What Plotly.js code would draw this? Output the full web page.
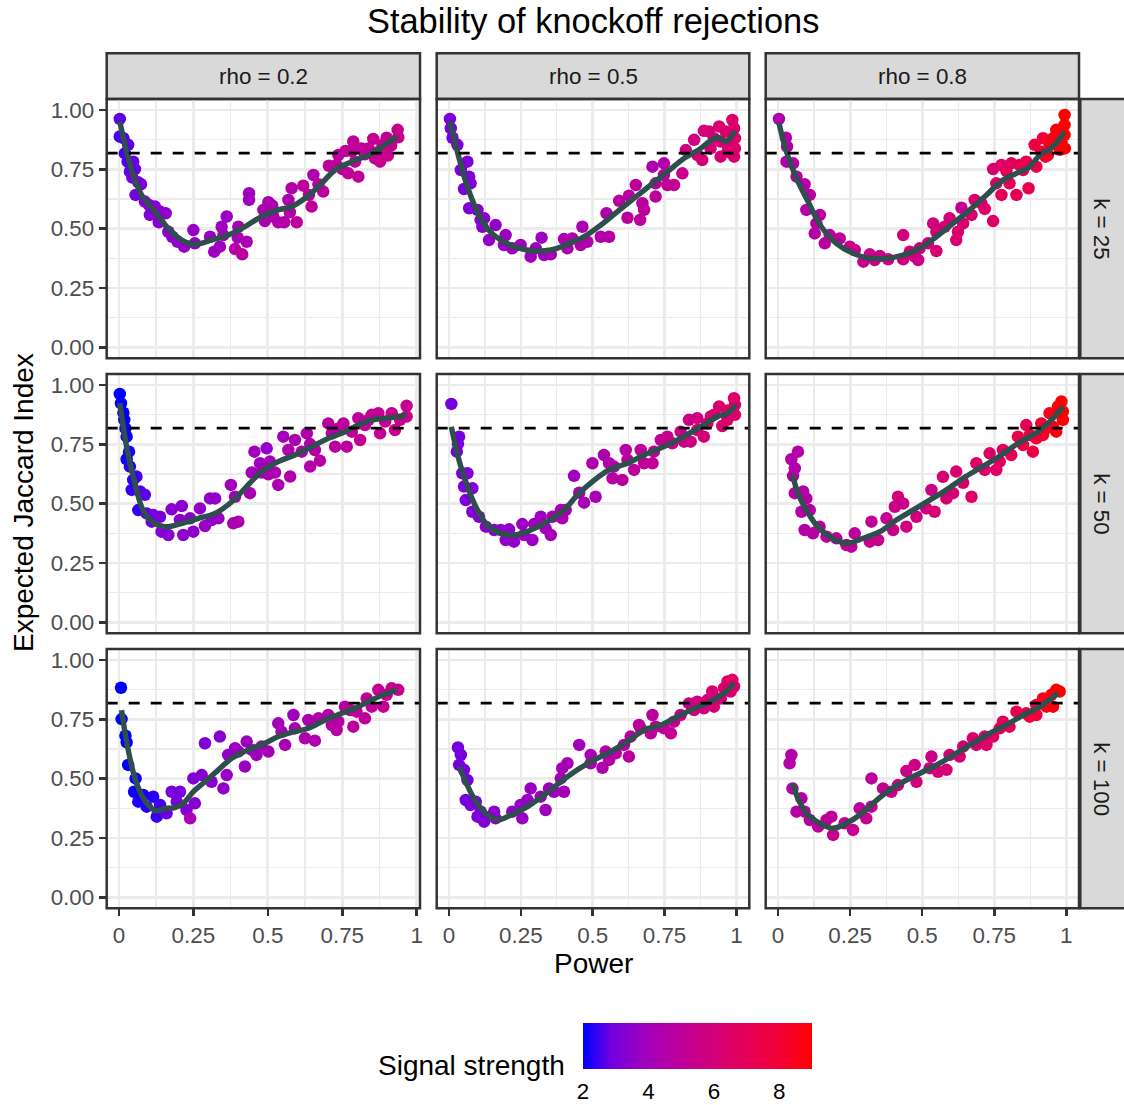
<!DOCTYPE html>
<html><head><meta charset="utf-8">
<script src="https://cdn.plot.ly/plotly-3.0.1.min.js"></script>
<style>html,body{margin:0;padding:0;background:#fff}#chart{width:1124px;height:1105px}</style>
</head><body><div id="chart"></div>
<script>
// ---------------- DATA ----------------
const chartTitle = 'Stability of knockoff rejections';
const xTitle = 'Power';
const yTitle = 'Expected Jaccard Index';
const legendTitle = 'Signal strength';
const rhoLabels = ['rho = 0.2', 'rho = 0.5', 'rho = 0.8'];
const kLabels = ['k = 25', 'k = 50', 'k = 100'];
const xTickVals = [0, 0.25, 0.5, 0.75, 1];
const xTickText = ['0', '0.25', '0.5', '0.75', '1'];
const yTickVals = [0, 0.25, 0.5, 0.75, 1];
const yTickText = ['0.00', '0.25', '0.50', '0.75', '1.00'];
const thresholdJaccard = 0.818;
const signalTicks = [2, 4, 6, 8];
const signalRange = [2, 9];

// points: [power, expected Jaccard, signal strength]
const pts_r02_k25 = [[.003,.962,2.7],[.003,.888,2.5],[.015,.881,2.6],[.031,.853,2.7],[.020,.817,2.5],[.029,.782,2.6],[.048,.782,2.8],[.054,.751,2.8],[.037,.740,2.7],[.045,.715,2.9],[.065,.695,3.0],[.074,.687,3.0],[.056,.642,3.0],[.087,.614,3.2],[.101,.600,3.3],[.121,.593,3.3],[.104,.558,3.2],[.138,.572,3.4],[.157,.565,3.5],[.134,.527,3.3],[.166,.487,3.4],[.179,.466,3.5],[.197,.445,3.5],[.219,.424,3.6],[.250,.494,3.7],[.255,.438,3.6],[.306,.466,3.7],[.320,.403,3.8],[.339,.424,3.9],[.345,.508,3.9],[.362,.551,3.8],[.351,.473,4.0],[.390,.414,4.7],[.401,.508,4.1],[.414,.392,4.8],[.429,.445,4.3],[.399,.462,4.2],[.437,.649,3.9],[.437,.621,3.9],[.485,.579,4.3],[.502,.611,4.2],[.515,.597,4.3],[.518,.551,4.4],[.490,.532,4.3],[.535,.527,4.5],[.555,.527,4.6],[.574,.569,4.6],[.569,.621,4.4],[.580,.670,4.6],[.597,.527,4.9],[.619,.681,5.0],[.647,.593,5.0],[.638,.642,4.8],[.653,.726,4.4],[.686,.656,4.9],[.670,.687,4.8],[.705,.765,4.9],[.737,.810,4.9],[.750,.751,5.0],[.770,.733,5.1],[.787,.867,4.9],[.793,.782,5.1],[.804,.719,5.0],[.782,.827,5.0],[.826,.813,5.2],[.854,.878,5.2],[.860,.796,5.3],[.877,.782,5.4],[.885,.853,5.2],[.899,.883,5.3],[.903,.808,5.4],[.914,.850,5.3],[.936,.916,5.3],[.938,.885,5.4],[.869,.822,5.3],[.838,.838,5.2],[.815,.838,5.1],[.761,.827,5.0],[.731,.768,4.9]];
const pts_r05_k25 = [[.003,.962,3.0],[.006,.923,3.0],[.012,.883,3.0],[.029,.853,3.1],[.064,.782,3.2],[.041,.747,3.1],[.070,.719,3.2],[.075,.691,3.2],[.052,.667,3.1],[.070,.586,3.2],[.099,.579,3.3],[.110,.537,3.4],[.116,.508,3.3],[.122,.544,3.4],[.162,.515,3.6],[.139,.452,3.6],[.197,.473,3.8],[.191,.431,3.8],[.220,.417,3.9],[.249,.431,3.9],[.284,.382,3.9],[.302,.417,3.8],[.322,.462,3.8],[.331,.389,4.0],[.354,.392,4.1],[.400,.456,4.4],[.429,.459,4.4],[.412,.417,4.4],[.464,.508,4.3],[.458,.431,4.5],[.481,.445,4.5],[.528,.466,4.5],[.557,.466,4.6],[.548,.565,4.5],[.592,.617,4.8],[.626,.639,4.8],[.621,.546,4.9],[.650,.684,4.9],[.665,.537,5.0],[.673,.607,4.9],[.679,.579,4.9],[.708,.761,4.4],[.719,.691,5.0],[.719,.635,4.9],[.748,.775,4.5],[.748,.726,5.0],[.760,.684,5.1],[.783,.684,5.2],[.812,.733,5.4],[.824,.831,5.6],[.853,.874,5.8],[.864,.810,5.9],[.881,.789,6.0],[.887,.912,6.0],[.910,.838,6.1],[.922,.881,6.1],[.940,.930,6.2],[.945,.803,6.2],[.963,.909,6.3],[.969,.853,6.3],[.986,.958,6.5],[.992,.923,6.4],[.995,.881,6.4],[.995,.838,6.3],[.992,.803,6.3],[.969,.824,6.2],[.945,.867,6.2],[.905,.909,6.0],[.986,.867,6.4]];
const pts_r08_k25 = [[.003,.962,4.4],[.027,.883,4.5],[.031,.846,4.5],[.029,.782,4.5],[.052,.775,4.6],[.064,.719,4.6],[.092,.687,4.6],[.110,.642,4.7],[.098,.579,4.7],[.145,.558,4.8],[.133,.522,4.8],[.127,.480,4.7],[.162,.438,4.8],[.179,.473,4.9],[.214,.459,5.0],[.249,.424,5.3],[.266,.410,5.4],[.296,.361,5.3],[.318,.392,5.4],[.335,.368,5.5],[.353,.385,5.5],[.382,.371,5.8],[.434,.473,5.9],[.434,.371,5.8],[.457,.403,6.0],[.474,.382,5.9],[.486,.368,5.6],[.491,.417,5.7],[.520,.438,6.0],[.538,.522,5.9],[.549,.406,6.2],[.549,.487,6.0],[.578,.508,6.1],[.595,.544,6.1],[.618,.452,6.2],[.636,.588,5.2],[.624,.487,6.3],[.642,.522,6.3],[.671,.558,6.4],[.682,.621,6.3],[.717,.583,6.5],[.746,.532,6.6],[.705,.607,6.5],[.746,.751,6.3],[.757,.691,6.6],[.775,.768,6.6],[.775,.642,7.0],[.803,.691,7.0],[.809,.775,6.8],[.827,.642,7.1],[.838,.768,7.2],[.861,.782,7.3],[.869,.670,7.2],[.890,.853,7.6],[.896,.761,7.4],[.919,.881,8.0],[.928,.803,8.3],[.942,.853,8.5],[.954,.881,8.6],[.965,.916,8.8],[.977,.832,8.9],[.983,.867,8.9],[.994,.979,9.0],[.994,.937,9.0],[.994,.895,9.0],[.995,.838,9.0],[.965,.860,8.7],[.913,.824,7.8],[.936,.810,8.4],[.850,.747,7.2],[.792,.743,6.9]];
const pts_r02_k50 = [[.003,.962,2.0],[.007,.923,2.0],[.015,.883,2.0],[.018,.853,2.0],[.022,.817,2.1],[.026,.782,2.1],[.034,.719,2.2],[.026,.687,2.1],[.037,.656,2.3],[.059,.614,2.5],[.048,.600,2.4],[.043,.558,2.4],[.071,.551,2.6],[.087,.537,2.7],[.065,.473,2.4],[.093,.459,2.7],[.115,.452,2.9],[.138,.445,3.0],[.110,.424,2.9],[.143,.382,3.2],[.166,.368,3.3],[.177,.476,3.3],[.211,.490,3.4],[.216,.368,3.5],[.205,.431,3.4],[.239,.438,3.4],[.250,.382,3.5],[.272,.480,3.6],[.289,.406,3.7],[.306,.522,3.5],[.323,.522,3.6],[.334,.438,3.8],[.311,.431,3.7],[.376,.579,4.0],[.384,.417,4.2],[.401,.424,4.3],[.390,.529,4.1],[.440,.544,4.2],[.455,.719,4.0],[.446,.631,4.0],[.474,.670,3.9],[.479,.631,4.1],[.496,.733,3.6],[.502,.624,4.3],[.507,.677,4.1],[.524,.631,4.3],[.535,.579,4.4],[.552,.782,4.0],[.569,.726,4.4],[.575,.614,4.5],[.591,.768,4.3],[.614,.719,4.5],[.631,.796,4.4],[.642,.656,4.6],[.642,.751,4.5],[.675,.681,4.7],[.658,.726,4.5],[.703,.838,4.8],[.726,.740,4.8],[.737,.817,4.8],[.754,.838,4.9],[.765,.740,4.9],[.782,.803,5.0],[.804,.860,5.0],[.810,.768,5.1],[.826,.831,5.1],[.849,.874,5.2],[.877,.796,5.2],[.871,.881,5.2],[.894,.846,5.3],[.916,.881,5.3],[.927,.810,5.4],[.944,.853,5.4],[.966,.912,5.3],[.966,.867,5.4],[.838,.853,5.1],[.715,.796,4.7]];
const pts_r05_k50 = [[.008,.920,2.9],[.035,.782,3.0],[.031,.751,3.0],[.027,.719,3.0],[.046,.628,3.1],[.064,.628,3.2],[.052,.572,3.1],[.081,.565,3.2],[.058,.515,3.1],[.081,.466,3.2],[.104,.445,3.3],[.128,.403,3.4],[.157,.389,3.4],[.180,.389,3.5],[.209,.392,3.5],[.197,.347,3.6],[.226,.340,3.6],[.255,.414,3.8],[.261,.368,3.8],[.290,.347,3.8],[.296,.414,3.9],[.319,.445,3.9],[.336,.396,4.0],[.354,.368,4.1],[.360,.445,4.1],[.389,.473,4.2],[.394,.438,4.3],[.406,.473,4.2],[.435,.617,3.9],[.453,.546,4.1],[.470,.504,4.2],[.510,.529,4.2],[.499,.670,4.4],[.539,.705,4.3],[.557,.670,4.5],[.574,.656,4.6],[.569,.607,4.7],[.603,.600,4.8],[.615,.726,4.7],[.621,.684,4.8],[.644,.642,4.9],[.667,.726,4.9],[.679,.670,5.0],[.708,.670,5.2],[.713,.719,5.1],[.737,.768,5.1],[.760,.782,5.3],[.777,.754,5.4],[.806,.803,5.5],[.818,.761,5.6],[.841,.761,5.7],[.835,.853,5.6],[.864,.860,5.8],[.864,.810,5.9],[.887,.782,6.0],[.899,.838,6.1],[.922,.874,6.1],[.940,.909,6.3],[.951,.827,6.4],[.969,.853,6.4],[.980,.888,6.4],[.992,.944,6.5],[.995,.916,6.5],[.995,.874,6.4],[.911,.867,6.2],[.969,.892,6.5]];
const pts_r08_k50 = [[.069,.719,4.5],[.046,.687,4.5],[.058,.649,4.5],[.052,.617,4.5],[.058,.544,4.6],[.087,.551,4.6],[.098,.522,4.7],[.081,.466,4.6],[.110,.473,4.7],[.092,.389,4.6],[.121,.375,4.7],[.144,.403,4.8],[.168,.361,4.9],[.202,.354,5.0],[.237,.326,5.2],[.266,.375,4.9],[.254,.319,5.2],[.324,.424,5.1],[.318,.340,5.3],[.347,.347,5.4],[.376,.438,5.3],[.399,.389,5.5],[.405,.487,5.6],[.416,.529,6.0],[.434,.501,5.5],[.445,.403,5.9],[.480,.445,5.8],[.514,.480,5.9],[.532,.558,5.6],[.543,.466,6.0],[.572,.613,6.2],[.584,.522,6.2],[.607,.544,6.2],[.618,.635,6.3],[.642,.588,6.3],[.671,.529,6.5],[.688,.670,6.5],[.717,.642,6.5],[.734,.712,6.6],[.757,.642,6.7],[.769,.677,6.7],[.780,.726,6.8],[.809,.705,7.1],[.832,.782,7.3],[.861,.831,7.0],[.850,.747,7.5],[.884,.719,7.6],[.873,.789,7.8],[.913,.838,8.2],[.919,.789,8.3],[.942,.881,8.5],[.954,.824,8.7],[.971,.909,8.8],[.983,.930,8.9],[.988,.888,9.0],[.988,.853,9.0],[.965,.803,8.8],[.931,.817,8.4],[.896,.775,8.0]];
const pts_r02_k100 = [[.007,.883,2.0],[.009,.751,2.0],[.022,.681,2.0],[.026,.653,2.0],[.031,.558,2.0],[.056,.501,2.1],[.051,.445,2.1],[.065,.403,2.2],[.082,.431,2.2],[.093,.382,2.3],[.115,.424,2.3],[.127,.340,2.4],[.138,.389,2.5],[.160,.354,2.8],[.177,.445,3.0],[.194,.403,3.0],[.205,.445,3.0],[.227,.368,3.2],[.239,.333,4.2],[.255,.396,3.3],[.250,.501,3.2],[.289,.649,3.2],[.278,.515,3.3],[.311,.487,3.4],[.339,.677,3.3],[.351,.459,3.6],[.362,.515,3.7],[.367,.600,3.6],[.390,.628,3.7],[.401,.614,3.7],[.423,.551,3.7],[.429,.656,3.8],[.446,.621,3.8],[.462,.600,3.9],[.479,.635,4.0],[.502,.614,4.1],[.535,.733,4.0],[.546,.698,4.1],[.558,.642,4.2],[.586,.768,3.9],[.591,.712,4.2],[.625,.670,4.4],[.636,.747,4.3],[.658,.660,4.4],[.670,.754,4.5],[.703,.768,4.6],[.731,.705,4.7],[.737,.740,4.7],[.759,.803,4.8],[.776,.789,4.9],[.787,.719,4.9],[.826,.754,5.0],[.832,.838,5.1],[.849,.803,5.1],[.871,.874,5.2],[.888,.803,5.2],[.899,.853,5.3],[.916,.881,5.3],[.938,.874,5.3],[.798,.782,5.0],[.715,.726,4.6]];
const pts_r05_k100 = [[.031,.631,2.9],[.041,.600,2.9],[.035,.558,2.9],[.052,.537,3.0],[.064,.494,3.0],[.058,.410,3.0],[.075,.389,3.1],[.093,.403,3.1],[.099,.340,3.1],[.122,.319,3.2],[.110,.361,3.1],[.157,.361,3.4],[.162,.333,3.4],[.220,.361,3.6],[.249,.389,3.6],[.255,.333,3.7],[.284,.459,3.7],[.273,.410,3.7],[.319,.424,3.8],[.336,.368,3.9],[.348,.459,3.9],[.365,.445,3.9],[.400,.445,4.1],[.389,.501,4.0],[.394,.544,4.1],[.412,.565,4.2],[.453,.642,4.0],[.493,.600,4.2],[.493,.565,4.3],[.534,.546,4.4],[.545,.614,4.5],[.557,.579,4.6],[.580,.607,4.6],[.609,.642,4.7],[.626,.593,4.8],[.632,.677,4.7],[.661,.726,4.6],[.667,.712,5.0],[.708,.768,4.8],[.702,.691,5.0],[.719,.719,4.9],[.748,.712,5.1],[.772,.691,5.2],[.783,.740,5.3],[.806,.768,5.4],[.835,.817,5.5],[.853,.789,5.6],[.864,.824,5.7],[.887,.796,5.9],[.899,.831,6.0],[.916,.867,6.0],[.922,.803,6.2],[.946,.838,6.2],[.957,.881,6.3],[.969,.909,6.4],[.986,.916,6.5],[.992,.888,6.5],[.980,.867,6.4]];
const pts_r08_k100 = [[.046,.600,4.6],[.040,.565,4.6],[.050,.459,4.7],[.081,.417,4.7],[.064,.361,4.7],[.092,.361,4.8],[.110,.326,4.8],[.139,.298,4.9],[.168,.326,5.0],[.185,.340,4.9],[.191,.263,5.3],[.231,.312,5.2],[.260,.284,5.4],[.283,.375,5.0],[.306,.333,5.3],[.324,.501,4.9],[.324,.382,5.2],[.364,.459,5.3],[.393,.445,5.5],[.416,.473,5.6],[.445,.532,5.4],[.474,.558,5.5],[.480,.487,5.9],[.526,.544,5.8],[.532,.593,5.5],[.555,.529,6.1],[.584,.537,6.1],[.595,.600,6.0],[.630,.593,6.2],[.642,.635,6.2],[.676,.670,6.3],[.688,.642,6.2],[.717,.677,6.5],[.746,.677,6.7],[.769,.712,6.8],[.780,.740,6.9],[.803,.719,7.0],[.827,.782,7.3],[.861,.775,7.6],[.873,.761,7.8],[.896,.810,8.1],[.919,.838,8.5],[.931,.803,8.6],[.948,.853,8.8],[.965,.874,9.0],[.954,.803,8.8],[.977,.867,9.0],[.896,.768,7.9],[.723,.642,6.5]];

// loess fits: [power, fitted Jaccard]
const fit_r02_k25 = [[.003,.951],[.026,.824],[.048,.726],[.076,.642],[.121,.572],[.166,.501],[.211,.452],[.255,.434],[.311,.452],[.367,.473],[.423,.508],[.479,.551],[.535,.579],[.580,.593],[.625,.628],[.670,.677],[.726,.747],[.782,.782],[.838,.810],[.894,.853],[.933,.888]];
const fit_r05_k25 = [[.003,.951],[.029,.824],[.058,.698],[.093,.586],[.133,.501],[.180,.452],[.238,.420],[.296,.406],[.354,.410],[.412,.434],[.470,.466],[.528,.515],[.586,.572],[.644,.628],[.702,.684],[.760,.740],[.818,.796],[.876,.838],[.922,.881],[.940,.883],[.963,.867],[.995,.912]];
const fit_r08_k25 = [[.003,.944],[.029,.824],[.064,.712],[.104,.614],[.150,.508],[.202,.438],[.260,.396],[.318,.375],[.376,.375],[.434,.389],[.491,.417],[.549,.466],[.607,.522],[.665,.579],[.723,.642],[.780,.705],[.827,.733],[.873,.761],[.908,.810],[.954,.846],[.994,.909]];
const fit_r02_k50 = [[.003,.923],[.020,.782],[.037,.670],[.054,.586],[.076,.487],[.104,.431],[.155,.403],[.211,.417],[.267,.438],[.323,.459],[.379,.508],[.434,.579],[.479,.635],[.535,.677],[.591,.705],[.647,.740],[.703,.775],[.759,.803],[.804,.831],[.849,.853],[.905,.860],[.966,.874]];
const fit_r05_k50 = [[.008,.824],[.023,.740],[.041,.656],[.064,.572],[.093,.487],[.133,.410],[.180,.375],[.226,.368],[.284,.389],[.342,.424],[.400,.473],[.447,.537],[.499,.593],[.557,.642],[.621,.670],[.679,.705],[.748,.740],[.806,.775],[.876,.824],[.934,.867],[.969,.881],[.998,.916]];
const fit_r08_k50 = [[.050,.621],[.069,.544],[.098,.473],[.133,.410],[.179,.361],[.237,.333],[.295,.354],[.353,.382],[.410,.431],[.468,.473],[.526,.515],[.584,.558],[.642,.607],[.699,.649],[.757,.691],[.815,.740],[.861,.775],[.902,.803],[.936,.838],[.965,.874],[.988,.909]];
const fit_r02_k100 = [[.009,.789],[.020,.698],[.037,.586],[.054,.501],[.076,.431],[.104,.382],[.127,.364],[.155,.375],[.188,.378],[.216,.396],[.250,.445],[.289,.487],[.334,.537],[.379,.586],[.434,.621],[.490,.649],[.535,.677],[.580,.695],[.636,.712],[.692,.747],[.748,.775],[.804,.803],[.860,.838],[.933,.874]];
const fit_r05_k100 = [[.035,.551],[.058,.487],[.087,.417],[.122,.361],[.168,.326],[.215,.347],[.273,.382],[.331,.431],[.389,.487],[.447,.537],[.505,.579],[.563,.614],[.621,.656],[.679,.705],[.737,.726],[.795,.761],[.853,.796],[.911,.824],[.957,.860],[.992,.902]];
const fit_r08_k100 = [[.050,.480],[.069,.417],[.098,.354],[.145,.312],[.191,.291],[.237,.312],[.283,.347],[.329,.396],[.387,.452],[.445,.494],[.503,.529],[.561,.565],[.618,.607],[.676,.649],[.734,.691],[.792,.726],[.850,.768],[.908,.803],[.971,.860]];

// ---------------- LAYOUT / DRAWING ----------------
const W = 1124, H = 1105;
const FONT = 'Liberation Sans, Arial, Helvetica, sans-serif';
const panelPts = [[pts_r02_k25, pts_r05_k25, pts_r08_k25],[pts_r02_k50, pts_r05_k50, pts_r08_k50],[pts_r02_k100, pts_r05_k100, pts_r08_k100]];
const panelFit = [[fit_r02_k25, fit_r05_k25, fit_r08_k25],[fit_r02_k50, fit_r05_k50, fit_r08_k50],[fit_r02_k100, fit_r05_k100, fit_r08_k100]];

const colLeft = [106.7, 436.7, 765.7], colRight = [420, 749.3, 1079];
const rowTop = [99, 374, 649], rowBottom = [358.3, 633.3, 908.3];
const xRanges = [[-0.041, 1.011], [-0.043, 1.045], [-0.043, 1.044]];
const yRange = [-0.046, 1.046];
const stripTop = 53.3;
const cbLeft = 583.3, cbLen = 228.5, cbTop = 1022.7, cbThick = 46;
const px = v => v / W, py = v => 1 - v / H;

const colorscale = [[0,'#0000FF'],[0.125,'#7300E0'],[0.25,'#9A00C2'],[0.375,'#B500A5'],[0.5,'#CA0089'],[0.625,'#DA006C'],[0.75,'#E8004F'],[0.875,'#F40031'],[1,'#FF0000']];

const traces = [];
const layout = {
  width: W, height: H,
  margin: {l: 0, r: 0, t: 0, b: 0, autoexpand: false},
  paper_bgcolor: '#FFFFFF', plot_bgcolor: '#FFFFFF',
  font: {family: FONT, color: '#000000'},
  showlegend: false,
  shapes: [], annotations: [],
  coloraxis: {
    cmin: signalRange[0], cmax: signalRange[1], colorscale: colorscale, showscale: true,
    colorbar: {
      orientation: 'h', thickness: cbThick, thicknessmode: 'pixels',
      len: cbLen, lenmode: 'pixels', xpad: 0, ypad: 0,
      x: px(cbLeft + cbLen / 2), xanchor: 'center',
      y: py(cbTop), yanchor: 'top',
      outlinewidth: 0,
      tickvals: signalTicks, ticktext: signalTicks.map(String),
      ticks: 'outside', ticklen: 4, tickwidth: 1, tickcolor: 'rgba(255,255,255,0)',
      tickfont: {size: 22.4, color: '#000000', family: FONT}
    }
  }
};

for (let r = 0; r < 3; r++) {
  for (let c = 0; c < 3; c++) {
    const i = r * 3 + c + 1;
    const sfx = i === 1 ? '' : String(i);
    const P = panelPts[r][c], F = panelFit[r][c];
    traces.push({
      type: 'scatter', mode: 'markers', xaxis: 'x' + sfx, yaxis: 'y' + sfx,
      x: P.map(p => p[0]), y: P.map(p => p[1]),
      marker: {color: P.map(p => p[2]), coloraxis: 'coloraxis', size: 12.5, opacity: 1, line: {width: 0}},
      hoverinfo: 'skip', showlegend: false
    });
    traces.push({
      type: 'scatter', mode: 'lines', xaxis: 'x' + sfx, yaxis: 'y' + sfx,
      x: F.map(p => p[0]), y: F.map(p => p[1]),
      line: {color: '#2F4F4F', width: 5.4, shape: 'spline', smoothing: 1},
      hoverinfo: 'skip', showlegend: false
    });
    layout['xaxis' + sfx] = {
      domain: [px(colLeft[c]), px(colRight[c])], range: xRanges[c], anchor: 'y' + sfx,
      tickvals: xTickVals, ticktext: xTickText,
      showticklabels: r === 2, ticks: r === 2 ? 'outside' : '',
      ticklen: 7, tickwidth: 2.5, tickcolor: '#333333',
      tickfont: {size: 22.4, color: '#4D4D4D', family: FONT},
      showgrid: true, gridcolor: '#EBEBEB', gridwidth: 2.7,
      minor: {tickvals: [0.125, 0.375, 0.625, 0.875], showgrid: true, gridcolor: '#EBEBEB', gridwidth: 1.35, ticks: ''},
      zeroline: false, showline: false, fixedrange: true
    };
    layout['yaxis' + sfx] = {
      domain: [py(rowBottom[r]), py(rowTop[r])], range: yRange, anchor: 'x' + sfx,
      tickvals: yTickVals, ticktext: yTickText,
      showticklabels: c === 0, ticks: c === 0 ? 'outside' : '',
      ticklen: 7, tickwidth: 2.5, tickcolor: '#333333',
      tickfont: {size: 22.4, color: '#4D4D4D', family: FONT},
      showgrid: true, gridcolor: '#EBEBEB', gridwidth: 2.7,
      minor: {tickvals: [0.125, 0.375, 0.625, 0.875], showgrid: true, gridcolor: '#EBEBEB', gridwidth: 1.35, ticks: ''},
      zeroline: false, showline: false, fixedrange: true
    };
    layout.shapes.push({type: 'line', xref: 'x' + sfx + ' domain', yref: 'y' + sfx,
      x0: 0, x1: 1, y0: thresholdJaccard, y1: thresholdJaccard,
      line: {color: '#000000', width: 2.7, dash: '11px,11px'}, layer: 'above'});
    layout.shapes.push({type: 'rect', xref: 'x' + sfx + ' domain', yref: 'y' + sfx + ' domain',
      x0: 0, x1: 1, y0: 0, y1: 1, line: {color: '#333333', width: 2.5}, fillcolor: 'rgba(0,0,0,0)', layer: 'above'});
  }
}

// strips
for (let c = 0; c < 3; c++) {
  layout.shapes.push({type: 'rect', xref: 'paper', yref: 'paper',
    x0: px(colLeft[c]), x1: px(colRight[c]), y0: py(rowTop[0]), y1: py(stripTop),
    fillcolor: '#D9D9D9', line: {color: '#333333', width: 2.5}, layer: 'below'});
  layout.annotations.push({xref: 'paper', yref: 'paper', x: px((colLeft[c] + colRight[c]) / 2), y: py((stripTop + rowTop[0]) / 2),
    text: rhoLabels[c], showarrow: false, xanchor: 'center', yanchor: 'middle',
    font: {size: 22.4, color: '#1A1A1A', family: FONT}});
}
for (let r = 0; r < 3; r++) {
  layout.shapes.push({type: 'rect', xref: 'paper', yref: 'paper',
    x0: px(1080.3), x1: px(1128), y0: py(rowBottom[r]), y1: py(rowTop[r]),
    fillcolor: '#D9D9D9', line: {color: '#333333', width: 2.5}, layer: 'below'});
  layout.annotations.push({xref: 'paper', yref: 'paper', x: px(1101.5), y: py((rowTop[r] + rowBottom[r]) / 2),
    text: kLabels[r], showarrow: false, textangle: 90, xanchor: 'center', yanchor: 'middle',
    font: {size: 22.4, color: '#1A1A1A', family: FONT}});
}

// white tick marks inside the colour bar (top and bottom edges)
signalTicks.slice(1).forEach(v => {
  const xp = cbLeft + (v - signalRange[0]) / (signalRange[1] - signalRange[0]) * cbLen;
  [[cbTop, cbTop + 9], [cbTop + cbThick - 9, cbTop + cbThick]].forEach(([a, b]) => {
    layout.shapes.push({type: 'line', xref: 'paper', yref: 'paper', x0: px(xp), x1: px(xp),
      y0: py(a), y1: py(b), line: {color: '#FFFFFF', width: 1.3}, layer: 'above'});
  });
});

// titles
layout.annotations.push({xref: 'paper', yref: 'paper', x: px(593), y: py(20.5), text: chartTitle,
  showarrow: false, xanchor: 'center', yanchor: 'middle', font: {size: 34.4, color: '#000000', family: FONT}});
layout.annotations.push({xref: 'paper', yref: 'paper', x: px(593), y: py(963), text: xTitle,
  showarrow: false, xanchor: 'center', yanchor: 'middle', font: {size: 28, color: '#000000', family: FONT}});
layout.annotations.push({xref: 'paper', yref: 'paper', x: px(24), y: py(503), text: yTitle, textangle: -90,
  showarrow: false, xanchor: 'center', yanchor: 'middle', font: {size: 28, color: '#000000', family: FONT}});
layout.annotations.push({xref: 'paper', yref: 'paper', x: px(567), y: py(1065), text: legendTitle,
  showarrow: false, xanchor: 'right', yanchor: 'middle', font: {size: 28, color: '#000000', family: FONT}});

Plotly.newPlot('chart', traces, layout, {staticPlot: true, displayModeBar: false});
</script>
</body></html>
